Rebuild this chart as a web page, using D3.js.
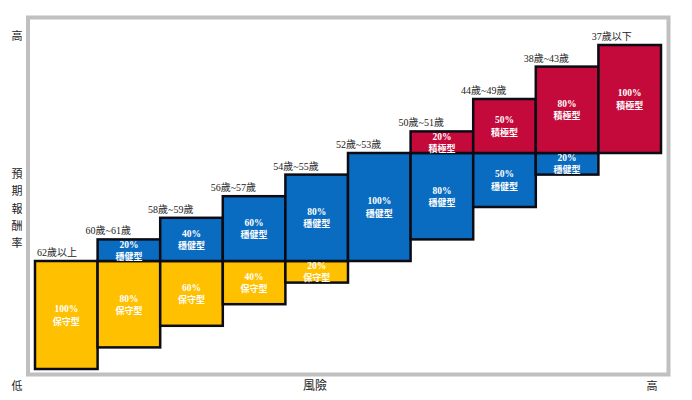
<!DOCTYPE html>
<html><head><meta charset="utf-8">
<script src="https://cdn.jsdelivr.net/npm/d3@7"></script>
<style>
html,body{margin:0;padding:0;background:#fff;}
svg{display:block;}
</style></head>
<body>
<svg id="c" width="692" height="400"></svg>
<script>
// ---- data ----
const ageGroups = ["62歲以上","60歲~61歲","58歲~59歲","56歲~57歲","54歲~55歲","52歲~53歲","50歲~51歲","44歲~49歲","38歲~43歲","37歲以下"];
const conservative = [100, 80, 60, 40, 20, 0, 0, 0, 0, 0];   // 保守型 %
const balanced     = [0, 20, 40, 60, 80, 100, 80, 50, 20, 0]; // 穩健型 %
const aggressive   = [0, 0, 0, 0, 0, 0, 20, 50, 80, 100];     // 積極型 %
const typeNames = ["保守型","穩健型","積極型"];
const typeColors = ["#FFC000","#0A6CC0","#C40A3A"];
const yAxisTitle = "預期報酬率";
const xAxisTitle = "風險";
const lowLabel = "低", highLabel = "高";

// ---- layout ----
const svg = d3.select("#c");

const x = d3.scaleBand().domain(ageGroups).range([35, 661]).padding(0);
// levels: 0 = bottom of conservative band, 3 = top of aggressive band
const y = d3.scaleLinear().domain([0, 3]).range([369, 45]);

// frame
svg.append("rect").attr("x", 28).attr("y", 17.5).attr("width", 640.5).attr("height", 357)
  .attr("fill", "none").attr("stroke", "#c0c0c0").attr("stroke-width", 4);

// build blocks: stack starts at risk index b + 2r (in units of 100%)
const blocks = [];
ageGroups.forEach((g, i) => {
  const shares = [conservative[i], balanced[i], aggressive[i]];
  let base = (balanced[i] + 2 * aggressive[i]) / 100;
  shares.forEach((s, t) => {
    if (s > 0) {
      blocks.push({group: g, i, type: t, pct: s, y0: base, y1: base + s / 100});
      base += s / 100;
    }
  });
});

const g = svg.append("g");
g.selectAll("rect.blk").data(blocks).join("rect").attr("class", "blk")
  .attr("x", d => x(d.group))
  .attr("width", x.bandwidth())
  .attr("y", d => y(d.y1))
  .attr("height", d => y(d.y0) - y(d.y1))
  .attr("fill", d => typeColors[d.type])
  .attr("stroke", "#0b0b14").attr("stroke-width", 2.5);

const fontTxt = "'Liberation Serif','Noto Sans CJK TC',serif";
const cx = d => x(d.group) + x.bandwidth() / 2;
const cy = d => (y(d.y0) + y(d.y1)) / 2;
g.selectAll("text.pct").data(blocks).join("text").attr("class", "pct")
  .attr("x", cx).attr("y", d => cy(d) - 2.6)
  .attr("text-anchor", "middle")
  .attr("fill", "#fff").attr("font-weight", "bold").attr("font-size", 9.5)
  .attr("font-family", fontTxt).text(d => d.pct + "%");
g.selectAll("text.typ").data(blocks).join("text").attr("class", "typ")
  .attr("x", cx).attr("y", d => cy(d) + 9.6)
  .attr("text-anchor", "middle")
  .attr("fill", "#fff").attr("font-weight", "bold").attr("font-size", 9)
  .attr("font-family", "'Noto Sans CJK TC',sans-serif").text(d => typeNames[d.type]);

// age labels above each column
const tops = ageGroups.map((gname, i) => ({gname, i,
  top: (balanced[i] + 2 * aggressive[i] + conservative[i] + balanced[i] + aggressive[i]) / 100}));
svg.selectAll("text.age").data(tops).join("text").attr("class", "age")
  .attr("x", d => d.i === 0 ? x(d.gname) + 2 : x(d.gname) + x.bandwidth() / 2 + 2)
  .attr("y", d => y(d.top) - 5)
  .attr("text-anchor", d => d.i === 0 ? "start" : "end")
  .attr("font-size", 10).attr("fill", "#222")
  .attr("font-family", fontTxt)
  .text(d => d.gname);

// axis labels
const axisFont = "'Noto Sans CJK TC',sans-serif";
svg.append("text").attr("x", 17).attr("y", 40).attr("text-anchor", "middle")
  .attr("font-size", 11).attr("font-family", axisFont).attr("fill", "#222").text(highLabel);
svg.append("text").attr("x", 17).attr("y", 390).attr("text-anchor", "middle")
  .attr("font-size", 11).attr("font-family", axisFont).attr("fill", "#222").text(lowLabel);
svg.append("text").attr("x", 652).attr("y", 390).attr("text-anchor", "middle")
  .attr("font-size", 11).attr("font-family", axisFont).attr("fill", "#222").text(highLabel);
svg.append("text").attr("x", 315).attr("y", 390).attr("text-anchor", "middle")
  .attr("font-size", 12).attr("font-family", axisFont).attr("fill", "#222").text(xAxisTitle);
svg.selectAll("text.yt").data(Array.from(yAxisTitle)).join("text").attr("class", "yt")
  .attr("x", 17).attr("y", (d, i) => 178 + i * 17.3).attr("text-anchor", "middle")
  .attr("font-size", 11).attr("font-family", axisFont).attr("fill", "#222").text(d => d);
</script>
</body></html>
